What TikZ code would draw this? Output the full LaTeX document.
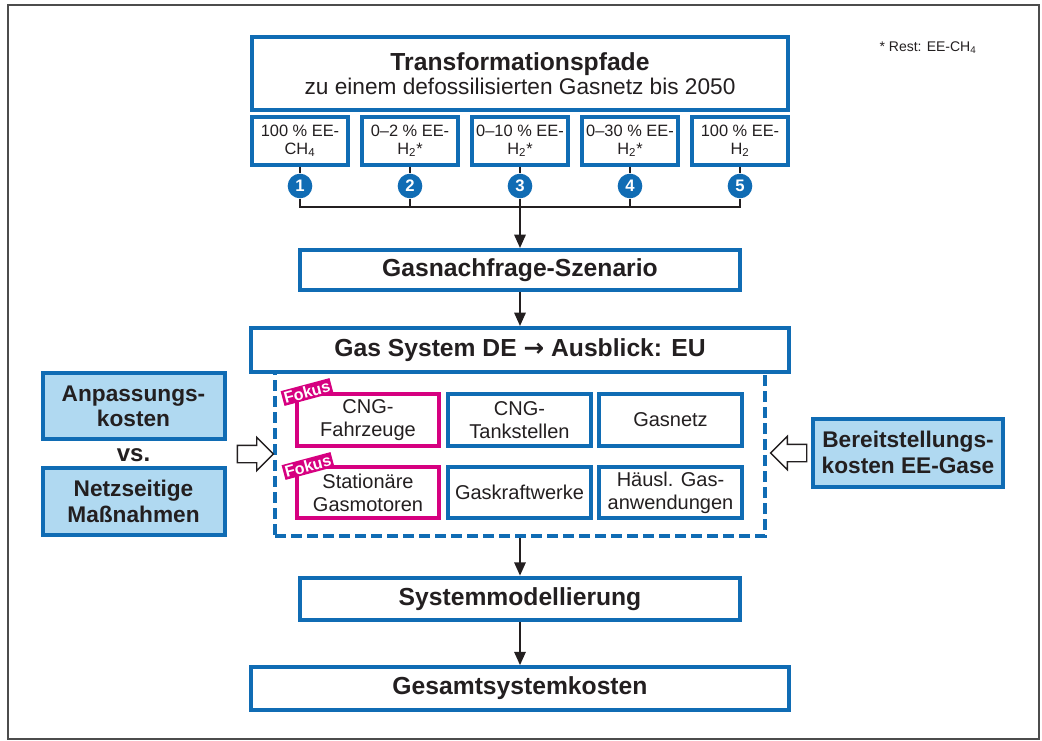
\documentclass[tikz,border=0pt]{standalone}
\usepackage{fontspec}
\setmainfont{Liberation Sans}
\newfontfamily\symfont{DejaVu Sans}
\usepackage{tikz}
\usetikzlibrary{shapes.arrows,arrows.meta}
\usepackage{xcolor}
\definecolor{fhblue}{RGB}{16,108,180}
\definecolor{fhlight}{RGB}{176,217,241}
\definecolor{fokuspink}{RGB}{214,0,128}
\definecolor{txt}{RGB}{35,31,32}

\begin{document}
\begin{tikzpicture}[x=0.75pt,y=-0.75pt,
  box/.style={draw=fhblue, line width=3pt, fill=white, align=center, inner sep=0pt, text=txt},
  bigbox/.style={box, font=\fontsize{18.5}{21}\selectfont\bfseries},
  pathbox/.style={box, minimum width=72pt, minimum height=36pt, font=\fontsize{12.3}{13.3}\selectfont},
  sector/.style={box, minimum width=107pt, minimum height=38.5pt, font=\fontsize{15}{17.3}\selectfont},
  focusbox/.style={sector, draw=fokuspink},
  tag/.style={fill=fokuspink, text=white, inner sep=1.3pt, font=\fontsize{12}{12}\selectfont\bfseries, rotate=15},
  costbox/.style={box, fill=fhlight, minimum width=136.5pt, font=\fontsize{17}{19}\selectfont\bfseries},
  num/.style={circle, fill=fhblue, text=white, minimum size=18.5pt, inner sep=0pt, font=\fontsize{12.5}{12.5}\selectfont\bfseries},
  conn/.style={draw=txt, line width=1.5pt},
  arr/.style={conn, -{Triangle[length=10pt,width=8.5pt]}},
  hollow/.style={single arrow, draw=txt, fill=white, line width=1pt, minimum height=27pt, inner sep=6pt, single arrow head extend=6pt}
]
\useasboundingbox (0,0) rectangle (1042,740);

% Frame
\draw[gray!60!black, line width=1.2pt] (8,5) rectangle (1039,739);
\node[font=\fontsize{10.5}{12}\selectfont, text=txt] (rest) at (928,48) {* Rest: EE-CH\textsubscript{4}};

% Transformation paths
\node[box, minimum width=402pt, minimum height=54.75pt] (trans) at (520,73.5)
  {{\fontsize{18.5}{21}\selectfont\bfseries Transformationspfade}\\[1pt]
   {\fontsize{17}{19}\selectfont zu einem defossilisierten Gasnetz bis 2050}};

\node[pathbox] (p1) at (300,141) {100 \% EE-\\CH\textsubscript{4}};
\node[pathbox] (p2) at (410,141) {0--2 \% EE-\\H\textsubscript{2}*};
\node[pathbox] (p3) at (520,141) {0--10 \% EE-\\H\textsubscript{2}*};
\node[pathbox] (p4) at (630,141) {0--30 \% EE-\\H\textsubscript{2}*};
\node[pathbox] (p5) at (740,141) {100 \% EE-\\H\textsubscript{2}};

\foreach \i/\x in {1/300,2/410,3/520,4/630,5/740}
  \node[num] (c\i) at (\x,186) {\i};
\coordinate (jn) at (520,207);

\foreach \i in {1,...,5}
  \draw[conn] (p\i) -- (c\i);
\draw[conn] (c1) |- (jn) -| (c5);
\draw[conn] (c2) -- (c2 |- jn);
\draw[conn] (c4) -- (c4 |- jn);

% Demand scenario and gas system
\node[bigbox, minimum width=330pt, minimum height=30pt] (demand) at (520,270) {Gasnachfrage-Szenario};
\draw[arr] (c3) -- (demand);

\node[draw=fhblue, line width=3pt, dash pattern=on 8pt off 4pt, minimum width=367.5pt, minimum height=123pt] (sys) at (520,454) {};
\node[bigbox, minimum width=403pt, minimum height=33pt] (gassys) at (520,350)
  {Gas System DE {\symfont\bfseries →} Ausblick: EU};
\draw[arr] (demand) -- (gassys);

\node[focusbox] (cngcar) at (368,420) {CNG-\\Fahrzeuge};
\node[sector] (cngst) at (519.5,420) {CNG-\\Tankstellen};
\node[sector] (grid) at (670.5,420) {Gasnetz};
\node[focusbox] (engine) at (368,492.5) {Stationäre\\Gasmotoren};
\node[sector] (plant) at (519.5,492.5) {Gaskraftwerke};
\node[sector] (home) at (670.5,492.5) {Häusl. Gas-\\anwendungen};
\node[tag] (tag1) at (307,392) {Fokus};
\node[tag] (tag2) at (308,466) {Fokus};

% Cost inputs
\node[costbox, minimum height=49.5pt] (adapt) at (133.5,406) {Anpassungs-\\kosten};
\node[font=\fontsize{18}{20}\selectfont\bfseries, text=txt] (vs) at (133.5,455) {vs.};
\node[costbox, minimum height=50pt] (netz) at (133.5,501.5) {Netzseitige\\Maßnahmen};
\node[hollow] (larr) at (251,454) {};

\node[costbox, minimum width=142.5pt, minimum height=51pt] (supply) at (908,452.5) {Bereitstellungs-\\kosten EE-Gase};
\node[hollow, shape border rotate=180] (rarr) at (793,453) {};

% Modelling and costs
\node[bigbox, minimum width=330pt, minimum height=32pt] (model) at (520,599) {Systemmodellierung};
\node[bigbox, minimum width=403pt, minimum height=32pt] (total) at (520,688.5) {Gesamtsystemkosten};
\draw[arr] (sys) -- (model);
\draw[arr] (model) -- (total);

\end{tikzpicture}
\end{document}
